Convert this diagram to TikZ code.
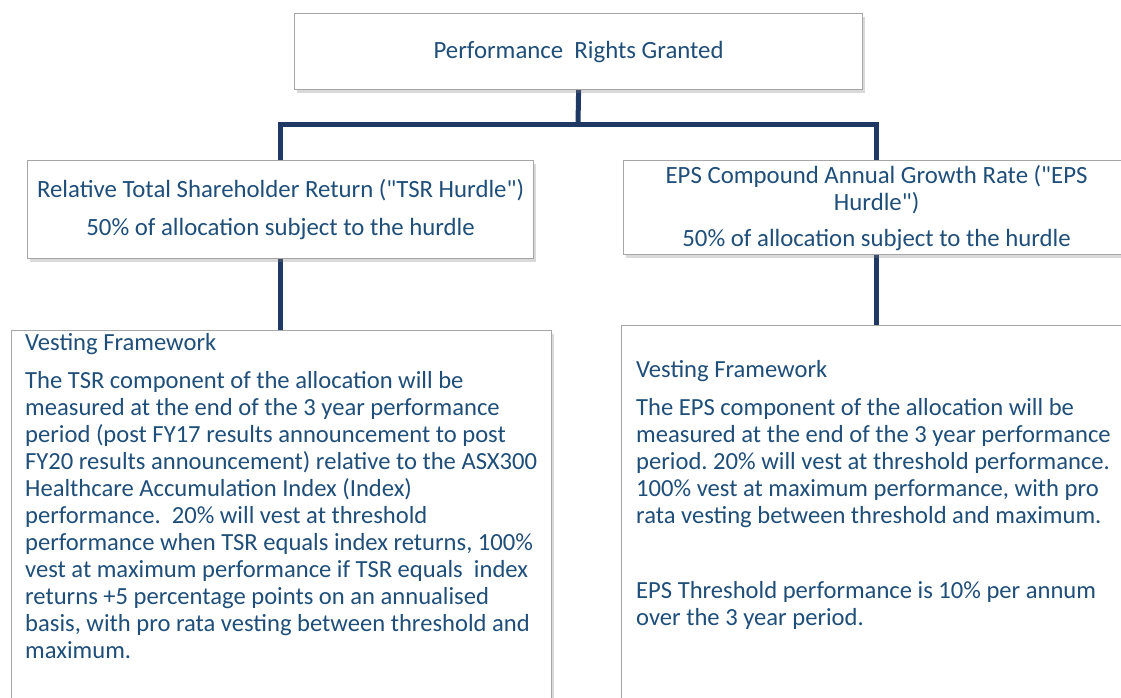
\documentclass[tikz,border=0pt]{standalone}
\usepackage{fontspec}
\setmainfont{Carlito}[Ligatures=TeXOff]
\usetikzlibrary{shadows}
\definecolor{txt}{HTML}{1F4E79}
\definecolor{navy}{HTML}{1F3864}
\definecolor{edge}{HTML}{A6A6A6}
\pgfdeclarelayer{bg}
\pgfsetlayers{bg,main}
\frenchspacing
\begin{document}
\begin{tikzpicture}[x=1pt,y=-1pt,
  box/.style={draw=edge, line width=1.2pt, fill=white,
    drop shadow={shadow xshift=2.5pt,shadow yshift=-3pt,opacity=0.3},
    inner sep=0pt, anchor=north west},
  conn/.style={draw=navy, line width=5pt, line join=miter},
  lbl/.style={text=txt, font=\fontsize{24.6}{27}\selectfont\frenchspacing, inner sep=0pt},
  head/.style={lbl, font=\fontsize{24.8}{27}\selectfont\frenchspacing},
  para/.style={lbl, anchor=base west, text width=530pt, align=flush left},
  ]
\useasboundingbox (0,0) rectangle (1121,697);
\clip (0,0) rectangle (1121,697);

\node[box, head, minimum width=568pt, minimum height=76pt] (top) at (294,13)
  {Performance\ \ Rights Granted};

\node[box, head, minimum width=506pt, minimum height=98pt, align=flush center] (tsr) at (27,160)
  {Relative Total Shareholder Return ("TSR Hurdle")\\[11pt]50\% of allocation subject to the hurdle};

\node[box, head, minimum width=506pt, minimum height=94pt, align=flush center] (eps) at (623,160)
  {EPS Compound Annual Growth Rate ("EPS\\Hurdle")\\[9pt]50\% of allocation subject to the hurdle};

\node[box, minimum width=540pt, minimum height=420pt] (vl) at (11,330) {};
\node[box, minimum width=520pt, minimum height=420pt] (vr) at (621,325) {};

\node[para] (vltext) at (25,350) {Vesting Framework\\[11pt]
The TSR component of the allocation will be\\
measured at the end of the 3 year performance\\
period (post FY17 results announcement to post\\
FY20 results announcement) relative to the ASX300\\
Healthcare Accumulation Index (Index)\\
performance.\ \ 20\% will vest at threshold\\
performance when TSR equals index returns, 100\%\\
vest at maximum performance if TSR equals\ \ index\\
returns +5 percentage points on an annualised\\
basis, with pro rata vesting between threshold and\\
maximum.};

\node[para] (vrtext) at (636,377) {Vesting Framework\\[11pt]
The EPS component of the allocation will be\\
measured at the end of the 3 year performance\\
period. 20\% will vest at threshold performance.\\
100\% vest at maximum performance, with pro\\
rata vesting between threshold and maximum.\\[48pt]
EPS Threshold performance is 10\% per annum\\
over the 3 year period.};

\coordinate (bus) at (578,124);
\begin{pgfonlayer}{bg}
\draw[conn] (top.south) -- (bus);
\draw[conn] (tsr.north) -- (tsr.north |- bus) -- (eps.north |- bus) -- (eps.north);
\draw[conn] (tsr.south) -- (tsr.south |- vl.north);
\draw[conn] (eps.south) -- (eps.south |- vr.north);
\end{pgfonlayer}
\end{tikzpicture}
\end{document}
